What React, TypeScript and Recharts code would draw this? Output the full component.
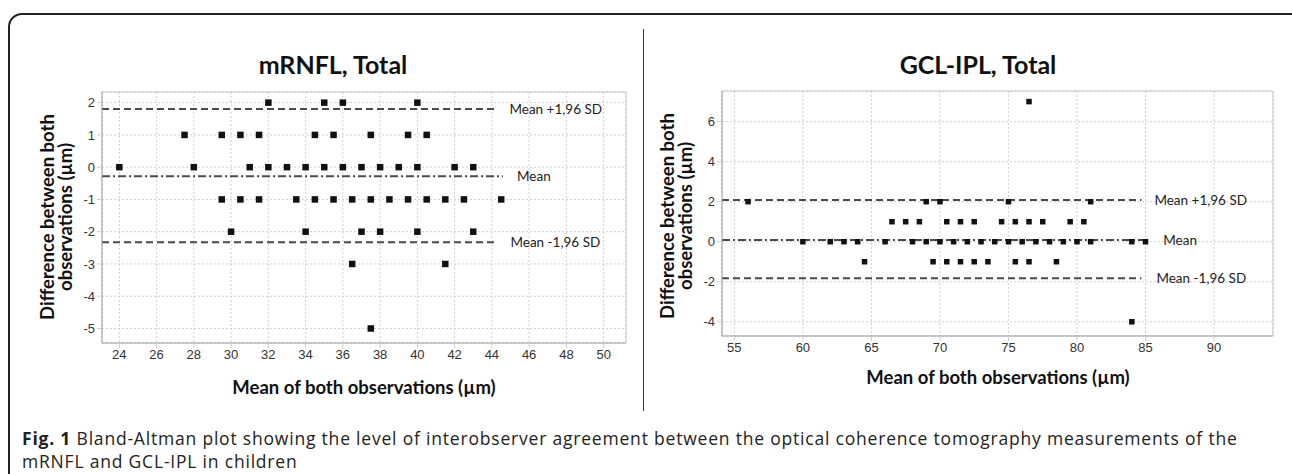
import React from 'react'
import {
  ScatterChart,
  Scatter,
  XAxis,
  YAxis,
  CartesianGrid,
  ReferenceLine,
} from 'recharts'

// mRNFL: mean of both observations, grouped by the difference (µm)
const MRNFL_DIFF_PLUS_2 = [32, 35, 36, 40]
const MRNFL_DIFF_PLUS_1 = [27.5, 29.5, 30.5, 31.5, 34.5, 35.5, 37.5, 39.5, 40.5]
const MRNFL_DIFF_0 = [24, 28, 31, 32, 33, 34, 35, 36, 37, 38, 39, 40, 42, 43]
const MRNFL_DIFF_MINUS_1 = [29.5, 30.5, 31.5, 33.5, 34.5, 35.5, 36.5, 37.5, 38.5, 39.5, 40.5, 41.5, 42.5, 44.5]
const MRNFL_DIFF_MINUS_2 = [30, 34, 37, 38, 40, 43]
const MRNFL_DIFF_MINUS_3 = [36.5, 41.5]
const MRNFL_DIFF_MINUS_5 = [37.5]
// upper limit, mean, lower limit
const MRNFL_LIMITS = [1.8, -0.28, -2.33]
const MRNFL_X_TICKS = [24, 26, 28, 30, 32, 34, 36, 38, 40, 42, 44, 46, 48, 50]
const MRNFL_Y_TICKS = [-5, -4, -3, -2, -1, 0, 1, 2]

// GCL-IPL
const GCL_DIFF_PLUS_7 = [76.5]
const GCL_DIFF_PLUS_2 = [56, 69, 70, 75, 81]
const GCL_DIFF_PLUS_1 = [66.5, 67.5, 68.5, 70.5, 71.5, 72.5, 74.5, 75.5, 76.5, 77.5, 79.5, 80.5]
const GCL_DIFF_0 = [60, 62, 63, 64, 66, 68, 69, 70, 71, 72, 73, 74, 75, 76, 77, 78, 79, 80, 81, 84, 85]
const GCL_DIFF_MINUS_1 = [64.5, 69.5, 70.5, 71.5, 72.5, 73.5, 75.5, 76.5, 78.5]
const GCL_DIFF_MINUS_4 = [84]
const GCL_LIMITS = [2.08, 0.08, -1.83]
const GCL_X_TICKS = [55, 60, 65, 70, 75, 80, 85, 90]
const GCL_Y_TICKS = [-4, -2, 0, 2, 4, 6]

const LIMIT_LABELS = ['Mean +1,96 SD', 'Mean', 'Mean -1,96 SD']

const FONT_TEXT = "Lato, 'Open Sans', sans-serif"
const FONT_TICK = "'Liberation Sans', Arial, sans-serif"

const toPoints = (groups: [number, number[]][]) =>
  groups.flatMap(([diff, means]) => means.map((m) => ({ mean: m, diff })))

const mrnflData = toPoints([
  [2, MRNFL_DIFF_PLUS_2],
  [1, MRNFL_DIFF_PLUS_1],
  [0, MRNFL_DIFF_0],
  [-1, MRNFL_DIFF_MINUS_1],
  [-2, MRNFL_DIFF_MINUS_2],
  [-3, MRNFL_DIFF_MINUS_3],
  [-5, MRNFL_DIFF_MINUS_5],
])

const gclData = toPoints([
  [7, GCL_DIFF_PLUS_7],
  [2, GCL_DIFF_PLUS_2],
  [1, GCL_DIFF_PLUS_1],
  [0, GCL_DIFF_0],
  [-1, GCL_DIFF_MINUS_1],
  [-4, GCL_DIFF_MINUS_4],
])

const square = (size: number) => (props: any) => (
  <rect x={props.cx - size / 2} y={props.cy - size / 2} width={size} height={size} fill="#111" />
)

interface PlotProps {
  data: { mean: number; diff: number }[]
  xDomain: [number, number]
  yDomain: [number, number]
  xTicks: number[]
  yTicks: number[]
  limits: number[]
  lineEnds: number[]
  labelOffsets: number[]
  size: number
  width: number
  height: number
  margin: { top: number; right: number; left: number; bottom: number }
}

function BlandAltman({
  data,
  xDomain,
  yDomain,
  xTicks,
  yTicks,
  limits,
  lineEnds,
  labelOffsets,
  size,
  width,
  height,
  margin,
}: PlotProps) {
  return (
    <ScatterChart width={width} height={height} margin={margin}>
      <CartesianGrid strokeDasharray="2 2" stroke="#cfcfcf" />
      <XAxis
        type="number"
        dataKey="mean"
        domain={xDomain}
        ticks={xTicks}
        allowDataOverflow
        height={30}
        tick={{ fontSize: 13, fill: '#333', fontFamily: FONT_TICK }}
        axisLine={{ stroke: '#999' }}
        tickLine={{ stroke: '#ccc' }}
        tickSize={5}
      />
      <YAxis
        type="number"
        dataKey="diff"
        domain={yDomain}
        ticks={yTicks}
        allowDataOverflow
        width={62}
        tick={{ fontSize: 13, fill: '#333', fontFamily: FONT_TICK }}
        axisLine={{ stroke: '#999' }}
        tickLine={{ stroke: '#ccc' }}
        tickSize={5}
      />
      {/* light frame on top and right */}
      <ReferenceLine y={yDomain[1]} stroke="#c8c8c8" />
      <ReferenceLine x={xDomain[1]} stroke="#c8c8c8" />
      {limits.map((v, i) => (
        <ReferenceLine
          key={i}
          segment={[
            { x: xDomain[0], y: v },
            { x: lineEnds[i], y: v },
          ]}
          stroke="#4a4a4a"
          strokeWidth={2}
          strokeDasharray={i === 1 ? '8 3 2 3' : '7 4'}
          label={{
            value: LIMIT_LABELS[i],
            position: 'right',
            offset: labelOffsets[i],
            fill: '#222',
            fontSize: 13.5,
            fontFamily: FONT_TEXT,
          }}
        />
      ))}
      <Scatter data={data} shape={square(size)} isAnimationActive={false} />
    </ScatterChart>
  )
}

const rotated = (cx: number, cy: number): React.CSSProperties => ({
  position: 'absolute',
  left: cx,
  top: cy,
  transform: 'translate(-50%, -50%) rotate(-90deg)',
  whiteSpace: 'nowrap',
  fontFamily: FONT_TEXT,
  fontWeight: 700,
  fontSize: 18.5,
  lineHeight: '20px',
  color: '#111',
})

const centered = (cx: number, cy: number, fontSize: number): React.CSSProperties => ({
  position: 'absolute',
  left: cx,
  top: cy,
  transform: 'translate(-50%, -50%)',
  whiteSpace: 'nowrap',
  fontFamily: FONT_TEXT,
  fontWeight: 700,
  fontSize,
  color: '#111',
})

export default function App() {
  return (
    <div
      style={{
        position: 'absolute',
        left: 0,
        top: 0,
        width: 1292,
        height: 474,
        overflow: 'hidden',
        background: '#fff',
      }}
    >
      {/* figure frame */}
      <div
        style={{
          position: 'absolute',
          left: 8,
          top: 13,
          width: 1310,
          height: 490,
          border: '2px solid #222',
          borderRadius: 14,
        }}
      />
      {/* divider between panels */}
      <div style={{ position: 'absolute', left: 643, top: 29, width: 1, height: 382, background: '#333' }} />

      {/* left panel */}
      <div style={centered(333, 64, 25)}>mRNFL, Total</div>
      <div style={rotated(47, 217)}>Difference between both</div>
      <div style={rotated(65, 217)}>observations (µm)</div>
      <div style={{ position: 'absolute', left: 40, top: 60 }}>
        <BlandAltman
          data={mrnflData}
          xDomain={[23.07, 51.2]}
          yDomain={[-5.45, 2.33]}
          xTicks={MRNFL_X_TICKS}
          yTicks={MRNFL_Y_TICKS}
          limits={MRNFL_LIMITS}
          lineEnds={[44.3, 44.6, 44.3]}
          labelOffsets={[12, 14, 13]}
          size={6.5}
          width={600}
          height={330}
          margin={{ top: 32, right: 14, left: 0, bottom: 17 }}
        />
      </div>
      <div style={centered(364, 387, 18.5)}>Mean of both observations (µm)</div>

      {/* right panel */}
      <div style={centered(978, 64, 25)}>GCL-IPL, Total</div>
      <div style={rotated(667, 216)}>Difference between both</div>
      <div style={rotated(685, 216)}>observations (µm)</div>
      <div style={{ position: 'absolute', left: 660, top: 60 }}>
        <BlandAltman
          data={gclData}
          xDomain={[54.1, 94.3]}
          yDomain={[-4.71, 7.53]}
          xTicks={GCL_X_TICKS}
          yTicks={GCL_Y_TICKS}
          limits={GCL_LIMITS}
          lineEnds={[84.7, 85.2, 84.7]}
          labelOffsets={[13, 15, 15]}
          size={5.5}
          width={630}
          height={330}
          margin={{ top: 31, right: 17, left: 0, bottom: 24 }}
        />
      </div>
      <div style={centered(998, 377, 18.5)}>Mean of both observations (µm)</div>

      {/* caption */}
      <div
        style={{
          position: 'absolute',
          left: 22,
          top: 427,
          width: 1265,
          fontFamily: "'Open Sans', Lato, sans-serif",
          fontSize: 17.5,
          letterSpacing: 0.8,
          lineHeight: '23px',
          color: '#222',
          whiteSpace: 'nowrap',
        }}
      >
        <b>Fig. 1</b> Bland-Altman plot showing the level of interobserver agreement between the optical coherence
        tomography measurements of the
        <br />
        mRNFL and GCL-IPL in children
      </div>
    </div>
  )
}
